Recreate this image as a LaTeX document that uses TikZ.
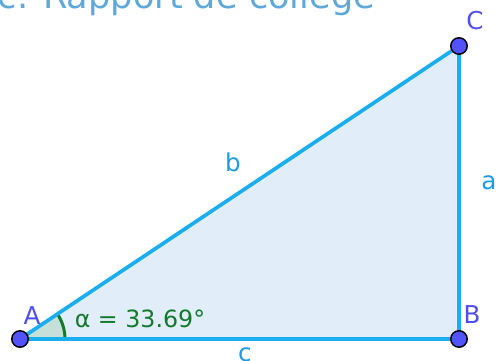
\documentclass[tikz,border=0pt]{standalone}
\usepackage{fontspec}
\setmainfont{DejaVu Sans}
\usepackage{xcolor}
\definecolor{sideBlue}{HTML}{1AAEEF}
\definecolor{triFill}{HTML}{E1EEF9}
\definecolor{ptBlue}{HTML}{5252FF}
\definecolor{ptLabel}{HTML}{4F4FF0}
\definecolor{sideLabel}{HTML}{1C9BE6}
\definecolor{angGreen}{HTML}{127A2A}
\definecolor{angFill}{HTML}{C5DFD9}
\definecolor{titleBlue}{HTML}{5FA9D8}
\usetikzlibrary{calc}

\begin{document}
\begin{tikzpicture}[
  pt/.style={circle, draw=black, line width=0.8pt, fill=ptBlue, inner sep=0pt, minimum size=0.33cm},
  ptlab/.style={text=ptLabel, font=\fontsize{14}{16}\selectfont, inner sep=0pt},
  sidelab/.style={text=sideLabel, font=\fontsize{14}{16}\selectfont, inner sep=0pt},
  side/.style={draw=sideBlue, line width=2.1pt, line join=round},
]
  \useasboundingbox (0,0) rectangle (9.98,7.22);
  \begin{scope}
    \clip (0,0) rectangle (9.98,7.22);
    \node[anchor=base west, inner sep=0pt, text=titleBlue, font=\fontsize{20}{24}\selectfont] (title) at (-0.05,7.05) {c. Rapport de collège};
    \node[sidelab] (lc) at (4.9,0.12) {c};
  \end{scope}

  \coordinate (A) at (0.4,0.44);
  \coordinate (B) at (9.18,0.44);
  \coordinate (C) at (9.18,6.3);

  % triangle
  \fill[triFill] (A) -- (B) -- (C) -- cycle;
  \fill[angFill] (A) -- ++(0:0.9) arc[start angle=0, end angle=33.69, radius=0.9] -- cycle;
  \draw[angGreen, line width=1.7pt] ($(A)+(0:0.9)$) arc[start angle=0, end angle=33.69, radius=0.9];
  \draw[side] (A) -- (B) -- (C) -- cycle;

  \node[pt] (pA) at (A) {};
  \node[pt] (pB) at (B) {};
  \node[pt] (pC) at (C) {};

  \node[ptlab] (lA) at (0.64,0.9) {A};
  \node[ptlab] (lB) at (9.44,0.92) {B};
  \node[ptlab] (lC) at (9.5,6.8) {C};
  \node[sidelab] (lb) at (4.66,3.98) {b};
  \node[sidelab] (la) at (9.78,3.56) {a};
  \node[text=angGreen, font=\fontsize{13.5}{16}\selectfont, inner sep=0pt] (alpha) at (2.8,0.84) {α = 33.69°};
\end{tikzpicture}
\end{document}
